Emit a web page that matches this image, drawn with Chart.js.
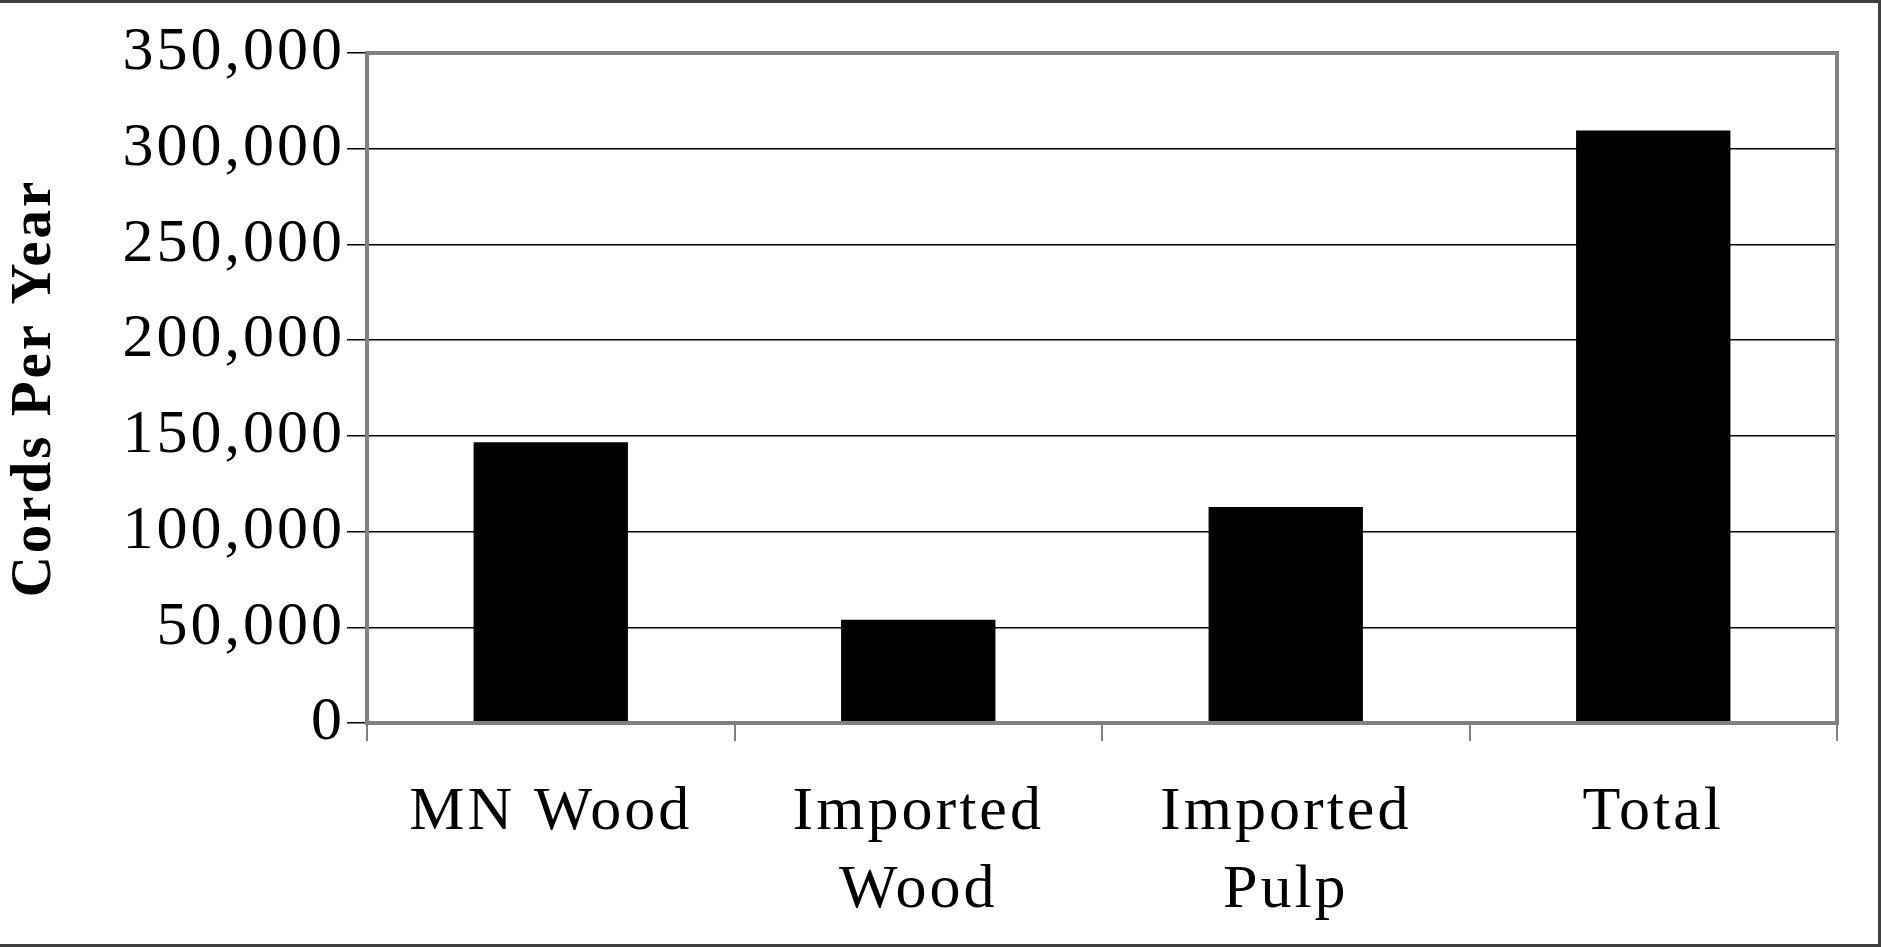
<!DOCTYPE html>
<html>
<head>
<meta charset="utf-8">
<title>Cords Per Year</title>
<script src="https://cdn.jsdelivr.net/npm/chart.js@4.4.1/dist/chart.umd.min.js"></script>
<style>
  html, body { margin: 0; padding: 0; background: #fff; }
  #wrap { width: 1881px; height: 947px; }
</style>
</head>
<body>
<div id="wrap"><canvas id="woodChart" width="1881" height="947"></canvas></div>
<script>
// data
const categories = [["MN Wood"], ["Imported", "Wood"], ["Imported", "Pulp"], ["Total"]];
const cordsPerYear = [146700, 54000, 112800, 309500];
const yTicks = [0, 50000, 100000, 150000, 200000, 250000, 300000, 350000];

const serif = "'Liberation Serif', 'Times New Roman', serif";

// grey frame round the plot area, dark outline of the picture,
// and the slightly spread-out lettering of the original
const framePlugin = {
  id: 'frame',
  beforeDraw(chart) {
    chart.ctx.letterSpacing = '3px';
  },
  afterDatasetsDraw(chart) {
    const { ctx, chartArea: a } = chart;
    ctx.save();
    ctx.strokeStyle = '#808080';
    ctx.lineWidth = 4;
    ctx.strokeRect(a.left, a.top, a.right - a.left, a.bottom - a.top);
    ctx.restore();
  },
  afterDraw(chart) {
    const { ctx, width, height } = chart;
    ctx.save();
    ctx.strokeStyle = '#404040';
    ctx.lineWidth = 3;
    ctx.beginPath();
    ctx.moveTo(0, 1.5);
    ctx.lineTo(width - 1.5, 1.5);
    ctx.lineTo(width - 1.5, height - 1.5);
    ctx.lineTo(0, height - 1.5);
    ctx.stroke();
    ctx.restore();
  }
};

function initWoodChart() {
  const ctx = document.getElementById('woodChart').getContext('2d');
  new Chart(ctx, {
    type: 'bar',
    data: {
      labels: categories,
      datasets: [{
        data: cordsPerYear,
        backgroundColor: '#000000',
        borderColor: '#000000',
        borderWidth: 0,
        categoryPercentage: 1,
        barPercentage: 0.42
      }]
    },
    options: {
      responsive: false,
      animation: false,
      devicePixelRatio: 1,
      layout: { padding: { top: 53, right: 44, bottom: 0, left: 0 } },
      plugins: {
        legend: { display: false },
        tooltip: { enabled: false }
      },
      scales: {
        x: {
          grid: {
            offset: true,
            drawOnChartArea: false,
            drawTicks: true,
            tickLength: 18,
            color: '#808080',
            lineWidth: 2
          },
          border: { color: '#808080', width: 4 },
          ticks: {
            color: '#000',
            padding: 33,
            maxRotation: 0,
            autoSkip: false,
            font: { family: serif, size: 62, lineHeight: 78 / 62 }
          },
          afterFit(scale) { scale.height = 947 - 723; }
        },
        y: {
          min: 0,
          max: 350000,
          afterBuildTicks(scale) {
            scale.ticks = yTicks.map(v => ({ value: v }));
          },
          grid: {
            color: '#000000',
            lineWidth: 1.5,
            tickLength: 20,
            tickColor: '#000000'
          },
          border: { color: '#808080', width: 4 },
          ticks: {
            color: '#000',
            padding: 2,
            font: { family: serif, size: 62 },
            callback: function(value) {
              return value.toLocaleString('en-US');
            }
          },
          title: {
            display: true,
            text: 'Cords Per Year',
            color: '#000',
            padding: { top: 1, bottom: 0 },
            font: { family: serif, size: 57, weight: 'bold' }
          },
          afterFit(scale) { scale.width = 367; }
        }
      }
    },
    plugins: [framePlugin]
  });
}

document.addEventListener('DOMContentLoaded', function() {
  initWoodChart();
});
</script>
</body>
</html>
